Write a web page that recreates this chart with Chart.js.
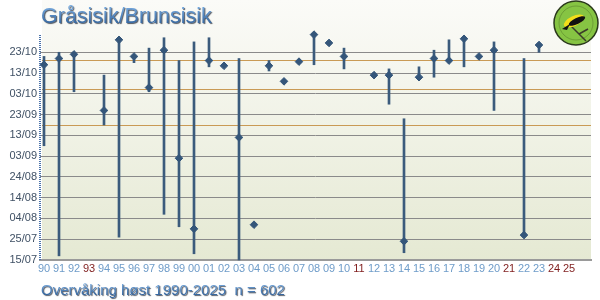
<!DOCTYPE html>
<html lang="no">
<head>
    <meta charset="UTF-8">
    <title>Gråsisik/Brunsisik</title>
    <script src="https://cdn.jsdelivr.net/npm/chart.js"></script>
    <style>
        html, body { margin: 0; padding: 0; background: #fff; }
        .chart-container { position: relative; width: 600px; height: 300px; }
    </style>
</head>
<body>
    <div class="chart-container">
        <canvas id="trekkChart" width="600" height="300"></canvas>
    </div>

    <script>
        // År (x-akse) og dager i året (y-akse, 196 = 15/07)
        const years = ['90','91','92','93','94','95','96','97','98','99','00','01','02','03','04','05','06','07','08','09',
                       '10','11','12','13','14','15','16','17','18','19','20','21','22','23','24','25'];
        const medianDay = [290, 293, 295, null, 268, 302, 294, 279, 297, 245, 211, 292, 289.5, 255, 213, 289.5, 282, 291.5, 304.5, 300.5,
                           294, null, 285, 285, 205, 284, 293, 292, 302.5, 294, 297, null, 208, 299.5, null, null];
        const firstDay  = [251, 198, 277, null, 261, 207, 291, 277, 218, 212, 199, 289, null, 196, null, 287, null, null, 290, null,
                           288, null, null, 271, 199.5, 284, 284, 292, 289, null, 268, null, 208, 296, null, null];
        const lastDay   = [294, 296, 296, null, 285, 302, 294, 298, 303, 292, 301, 303, null, 293, null, 292, null, null, 304.5, null,
                           298, null, null, 288, 264, 289, 297, 302, 302.5, null, 301, null, 293, 299.5, null, null];
        const yTicks = [196, 206, 216, 226, 236, 246, 256, 266, 276, 286, 296];
        const refLines = [292.3, 278.2, 261];

        const monthStart = [0, 31, 59, 90, 120, 151, 181, 212, 243, 273, 304, 334];

        // dag i året -> dd/mm
        function dayLabel(d) {
            let m = 11;
            while (m > 0 && d <= monthStart[m]) m--;
            const dd = Math.round(d - monthStart[m]);
            return String(dd).padStart(2, '0') + '/' + String(m + 1).padStart(2, '0');
        }

        const pointData = [];
        const rangeData = [];
        years.forEach((y, i) => {
            if (medianDay[i] !== null) pointData.push({ x: i, y: medianDay[i] });
            if (firstDay[i] !== null) rangeData.push({ x: i, y: [firstDay[i], lastDay[i]] });
        });

        function textGradient(ctx, top, bottom) {
            const g = ctx.createLinearGradient(0, top, 0, bottom);
            g.addColorStop(0, '#78abe0');
            g.addColorStop(1, '#3466a0');
            return g;
        }

        const decorPlugin = {
            id: 'decor',
            beforeDraw(chart) {
                const { ctx, chartArea } = chart;
                ctx.save();
                ctx.fillStyle = '#ffffff';
                ctx.fillRect(0, 0, chart.width, chart.height);
                const g = ctx.createLinearGradient(0, 0, 0, chartArea.bottom);
                g.addColorStop(0, '#fbfbf8');
                g.addColorStop(1, '#e5e9d3');
                ctx.fillStyle = g;
                ctx.fillRect(chartArea.left + 2, 0, chartArea.right - chartArea.left - 2, chartArea.bottom);
                ctx.restore();
            },
            beforeDatasetsDraw(chart) {
                const { ctx, chartArea } = chart;
                const yScale = chart.scales.y;
                ctx.save();
                ctx.strokeStyle = '#c99a55';
                ctx.lineWidth = 1.2;
                refLines.forEach(v => {
                    const py = Math.round(yScale.getPixelForValue(v)) + 0.5;
                    ctx.beginPath();
                    ctx.moveTo(chartArea.left + 2, py);
                    ctx.lineTo(chartArea.right, py);
                    ctx.stroke();
                });
                // prikket y-akse
                ctx.strokeStyle = '#4a72aa';
                ctx.lineWidth = 2;
                ctx.setLineDash([1, 1]);
                ctx.beginPath();
                ctx.moveTo(chartArea.left, chartArea.top + 1);
                ctx.lineTo(chartArea.left, chartArea.bottom);
                ctx.stroke();
                ctx.restore();
            },
            afterDraw(chart) {
                const ctx = chart.ctx;
                ctx.save();
                ctx.shadowColor = 'rgba(20,30,45,0.75)';
                ctx.shadowOffsetX = 1;
                ctx.shadowOffsetY = 1;
                ctx.shadowBlur = 1;
                ctx.textBaseline = 'alphabetic';
                ctx.font = '21.5px "Liberation Sans", Arial, sans-serif';
                ctx.fillStyle = textGradient(ctx, 6, 24);
                ctx.fillText('Gråsisik/Brunsisik', 41, 23);
                ctx.font = '15px "Liberation Sans", Arial, sans-serif';
                ctx.fillStyle = textGradient(ctx, 283, 295);
                ctx.fillText('Overvåking høst 1990-2025  n = 602', 41, 295);
                ctx.restore();

                // logo
                ctx.save();
                const cx = 576, cy = 23, r = 22;
                ctx.beginPath();
                ctx.arc(cx, cy, r, 0, Math.PI * 2);
                ctx.fillStyle = '#86c443';
                ctx.fill();
                ctx.lineWidth = 1.5;
                ctx.strokeStyle = '#2b3a1c';
                ctx.stroke();
                ctx.beginPath();
                ctx.arc(cx, cy, r - 5, 0, Math.PI * 2);
                ctx.strokeStyle = 'rgba(60,90,30,0.35)';
                ctx.lineWidth = 1;
                ctx.stroke();
                // grein
                ctx.strokeStyle = '#3a3a2a';
                ctx.lineWidth = 1.5;
                ctx.beginPath();
                ctx.moveTo(cx - 6, cy + 2);
                ctx.lineTo(cx + 10, cy + 18);
                ctx.moveTo(cx + 3, cy + 11);
                ctx.lineTo(cx + 12, cy + 6);
                ctx.stroke();
                // fugl
                ctx.fillStyle = '#f2de1a';
                ctx.beginPath();
                ctx.ellipse(cx - 2, cy - 2, 11, 5, -0.45, 0, Math.PI * 2);
                ctx.fill();
                ctx.fillStyle = '#111';
                ctx.beginPath();
                ctx.ellipse(cx + 1, cy - 2, 9, 3, -0.45, 0, Math.PI * 2);
                ctx.fill();
                ctx.beginPath();
                ctx.moveTo(cx - 14, cy + 6);
                ctx.lineTo(cx - 6, cy + 1);
                ctx.lineTo(cx - 9, cy + 7);
                ctx.closePath();
                ctx.fill();
                ctx.restore();
            }
        };

        const ctx = document.getElementById('trekkChart').getContext('2d');
        new Chart(ctx, {
            type: 'scatter',
            data: {
                datasets: [
                    {
                        type: 'scatter',
                        data: pointData,
                        pointStyle: 'rectRot',
                        pointRadius: 3.8,
                        pointBackgroundColor: '#34567a',
                        pointBorderColor: '#34567a',
                        pointBorderWidth: 1,
                        clip: false,
                        order: 0
                    },
                    {
                        type: 'bar',
                        data: rangeData,
                        backgroundColor: '#3b5b7c',
                        borderWidth: 0,
                        barThickness: 2,
                        grouped: false,
                        clip: false,
                        order: 1
                    }
                ]
            },
            options: {
                responsive: false,
                animation: false,
                devicePixelRatio: 1,
                layout: { padding: { top: 34, right: 9, left: 0, bottom: 0 } },
                plugins: {
                    legend: { display: false },
                    tooltip: { enabled: false },
                    title: { display: false }
                },
                scales: {
                    x: {
                        type: 'linear',
                        offset: false,
                        min: -4 / 15,
                        max: 36.4667,
                        afterBuildTicks: s => { s.ticks = years.map((_, i) => ({ value: i })); },
                        afterFit: s => { s.height = 40; },
                        grid: { display: false, drawTicks: false },
                        border: { display: true, color: '#9a9a9a', width: 2 },
                        ticks: {
                            autoSkip: false,
                            maxRotation: 0,
                            padding: 2,
                            font: { family: '"Liberation Sans", Arial, sans-serif', size: 11 },
                            color: c => medianDay[c.index] === null ? '#7f1d1d' : '#6e9cc9',
                            callback: v => years[v]
                        }
                    },
                    y: {
                        type: 'linear',
                        min: 196,
                        max: 304.8,
                        afterBuildTicks: s => { s.ticks = yTicks.map(v => ({ value: v })); },
                        afterFit: s => { s.width = 40; },
                        grid: {
                            color: '#8a8a8a',
                            lineWidth: 1,
                            drawTicks: false
                        },
                        border: { display: false },
                        ticks: {
                            padding: 3,
                            font: { family: '"Liberation Sans", Arial, sans-serif', size: 11 },
                            color: '#3f5064',
                            callback: v => dayLabel(v)
                        }
                    }
                }
            },
            plugins: [decorPlugin]
        });
    </script>
</body>
</html>
